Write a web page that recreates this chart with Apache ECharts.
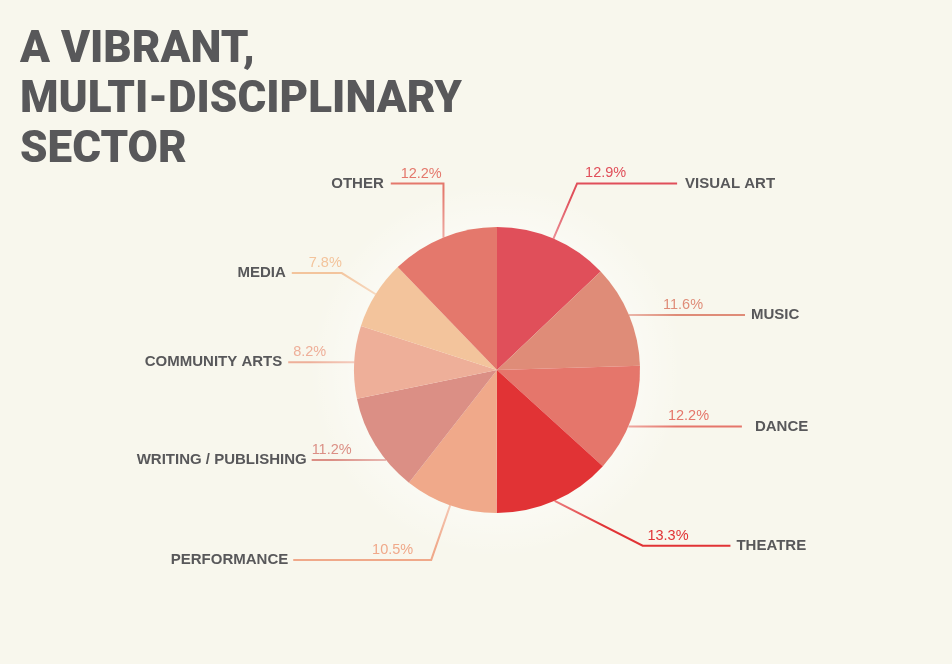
<!DOCTYPE html>
<html>
<head>
<meta charset="utf-8">
<script src="https://cdn.jsdelivr.net/npm/echarts@6/dist/echarts.min.js"></script>
<style>
  html, body { margin: 0; padding: 0; background: #f8f7ed; }
  #chart { width: 952px; height: 664px; }
</style>
</head>
<body>
<div id="chart"></div>
<script>
// disciplines, clockwise from 12 o'clock
var categories = ['VISUAL ART', 'MUSIC', 'DANCE', 'THEATRE', 'PERFORMANCE',
    'WRITING / PUBLISHING', 'COMMUNITY ARTS', 'MEDIA', 'OTHER'];
var shares = [12.9, 11.6, 12.2, 13.3, 10.5, 11.2, 8.2, 7.8, 12.2];
var sliceColors = ['#e04f5a', '#df8c78', '#e5766b', '#e13335', '#f0a98a',
    '#db8f85', '#eeaf99', '#f3c49c', '#e4786c'];

// label line layout per slice (radial part, horizontal part, gap to name, pct offset)
var lineLen = [60, 0, 20, 49, 58, 28, 0, 40, 58];
var lineLen2 = [100, 116, 92, 156, 138, 40, 66, 50, 31];
var nameGap = [8, 6, 13, 6, 5, 5, 6, 6, 7];
var pctLen2 = [8, 34, 18, 73, 18, 0, 28, 0, -20];
// how the first leg of each line is drawn: radial, flat, or at a given angle (deg)
var lineShape = ['radial', 'radial', 'flat', 27, 'radial', 'flat', 'radial', 'radial', 90];

var center = [497, 370];
var radius = 143;

var sliceData = [], pctData = [];
categories.forEach(function (name, i) {
    sliceData.push({
        name: name,
        value: shares[i],
        itemStyle: { color: sliceColors[i] },
        label: { distanceToLabelLine: nameGap[i] },
        labelLine: { length: lineLen[i], length2: lineLen2[i], lineStyle: { color: sliceColors[i] } }
    });
    pctData.push({
        name: name,
        value: shares[i],
        label: { color: sliceColors[i] },
        labelLine: { length: lineLen[i], length2: pctLen2[i] }
    });
});

function bendLine(params) {
    var pts = params.labelLinePoints;
    var shape = lineShape[params.dataIndex];
    if (!pts || pts.length < 3 || shape === 'radial') return {};
    var p0 = pts[0], p2 = pts[2];
    var y = p2[1];
    var side = p2[0] < center[0] ? -1 : 1;
    if (shape === 'flat') {
        var dy = y - center[1];
        var start = [center[0] + side * Math.sqrt(radius * radius - dy * dy), y];
        return { labelLinePoints: [start, [(start[0] + p2[0]) / 2, y], p2] };
    }
    var dx = Math.abs(y - p0[1]) / Math.tan(shape * Math.PI / 180);
    return { labelLinePoints: [p0, [p0[0] + side * dx, y], p2] };
}

var myChart = echarts.init(document.getElementById('chart'));
var option = {
    backgroundColor: '#f8f7ed',
    animation: false,
    title: {
        text: 'A VIBRANT,\nMULTI-DISCIPLINARY\nSECTOR',
        left: 15,
        top: 21,
        textStyle: {
            fontFamily: 'Roboto',
            fontWeight: 900,
            fontSize: 44,
            lineHeight: 50,
            color: '#58585a'
        }
    },
    series: [
        {
            // faint halo behind the pie
            type: 'pie',
            silent: true,
            center: center,
            radius: [0, 188],
            label: { show: false },
            labelLine: { show: false },
            data: [{
                value: 1,
                itemStyle: {
                    color: {
                        type: 'radial', x: 0.5, y: 0.5, r: 0.5,
                        colorStops: [
                            { offset: 0.7, color: 'rgba(255,255,255,0.45)' },
                            { offset: 1, color: 'rgba(255,255,255,0)' }
                        ]
                    }
                }
            }]
        },
        {
            type: 'pie',
            center: center,
            radius: [0, radius],
            startAngle: 90,
            avoidLabelOverlap: false,
            label: {
                position: 'outside',
                alignTo: 'none',
                formatter: '{b}',
                fontFamily: 'Liberation Sans',
                fontWeight: 'bold',
                fontSize: 15,
                color: '#58585a'
            },
            labelLine: {
                show: true,
                lineStyle: { width: 2 }
            },
            labelLayout: bendLine,
            data: sliceData
        },
        {
            // percentage labels sitting on top of the lines
            type: 'pie',
            silent: true,
            center: center,
            radius: [0, radius],
            startAngle: 90,
            avoidLabelOverlap: false,
            itemStyle: { color: 'rgba(0,0,0,0)' },
            label: {
                position: 'outside',
                alignTo: 'none',
                distanceToLabelLine: 0,
                formatter: function (p) {
                    return '{p|' + p.value.toFixed(1) + '%}';
                },
                rich: {
                    p: {
                        fontFamily: 'Liberation Sans',
                        fontSize: 14.5,
                        padding: [0, 0, 20, 0]
                    }
                }
            },
            labelLine: {
                show: true,
                lineStyle: { opacity: 0 }
            },
            data: pctData
        }
    ]
};
myChart.setOption(option);
</script>
</body>
</html>
